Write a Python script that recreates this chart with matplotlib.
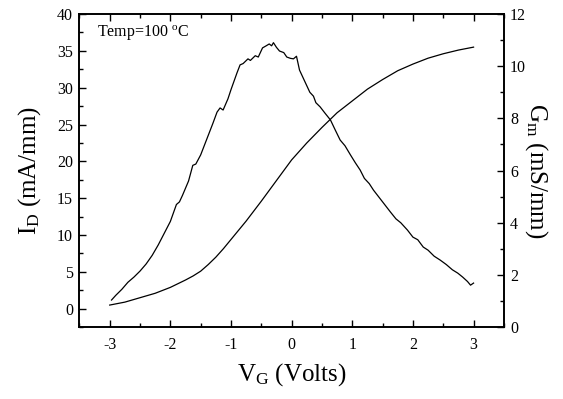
import matplotlib.pyplot as plt
from matplotlib.ticker import MultipleLocator

plt.rcParams['font.family'] = 'Liberation Serif'
plt.rcParams['mathtext.fontset'] = 'custom'
plt.rcParams['mathtext.rm'] = 'Liberation Serif'
plt.rcParams['mathtext.it'] = 'Liberation Serif:italic'
plt.rcParams['axes.unicode_minus'] = False  # plain hyphen like the original

# ---------- Data ----------
# drain current, left axis
vg_id = [-3.0, -2.875, -2.75, -2.625, -2.5, -2.375, -2.25, -2.125, -2.0, -1.875, -1.75,
         -1.625, -1.5, -1.375, -1.25, -1.125, -1.0, -0.75, -0.5, -0.25,
         0.0, 0.25, 0.5, 0.75, 1.0, 1.25, 1.5, 1.75, 2.0, 2.25, 2.5, 2.75, 3.0]
i_d = [0.5, 0.7, 0.9, 1.2, 1.5, 1.8, 2.1, 2.5, 2.9, 3.4, 3.9,
       4.45, 5.1, 6.0, 7.0, 8.15, 9.4, 11.9, 14.6, 17.4,
       20.2, 22.5, 24.6, 26.6, 28.2, 29.8, 31.1, 32.3, 33.2, 34.0, 34.6, 35.1, 35.5]

# transconductance, right axis
vg_gm = [-2.97, -2.9, -2.8, -2.7, -2.6, -2.5, -2.4, -2.3, -2.2, -2.1, -2.0, -1.9, -1.85,
         -1.8, -1.7, -1.63, -1.58, -1.5, -1.4, -1.3, -1.23, -1.18, -1.13, -1.05, -1.0,
         -0.9, -0.85, -0.8, -0.72, -0.68, -0.6, -0.55, -0.48, -0.42, -0.37, -0.33, -0.3,
         -0.25, -0.2, -0.13, -0.08, -0.02, 0.03, 0.08, 0.13, 0.2, 0.3, 0.36, 0.4, 0.47,
         0.55, 0.64, 0.72, 0.8, 0.88, 0.97, 1.05, 1.13, 1.2, 1.28, 1.35, 1.45, 1.55, 1.63,
         1.72, 1.8, 1.91, 2.0, 2.08, 2.17, 2.25, 2.35, 2.45, 2.55, 2.65, 2.74, 2.82, 2.9,
         2.95, 3.0]
g_m = [1.04, 1.22, 1.45, 1.72, 1.92, 2.15, 2.42, 2.75, 3.15, 3.6, 4.05, 4.7, 4.8,
       5.05, 5.6, 6.2, 6.25, 6.6, 7.2, 7.8, 8.24, 8.4, 8.32, 8.75, 9.1,
       9.75, 10.05, 10.1, 10.28, 10.22, 10.4, 10.35, 10.7, 10.78, 10.85, 10.78, 10.9,
       10.72, 10.58, 10.52, 10.35, 10.3, 10.28, 10.38, 9.85, 9.5, 9.0, 8.85, 8.6, 8.44,
       8.2, 7.94, 7.55, 7.17, 6.95, 6.6, 6.3, 6.02, 5.7, 5.5, 5.25, 4.95, 4.65, 4.41,
       4.15, 4.0, 3.72, 3.45, 3.35, 3.07, 2.95, 2.72, 2.57, 2.4, 2.2, 2.07, 1.92, 1.75,
       1.61, 1.69]

# ---------- Plotting ----------
fig = plt.figure(figsize=(5.63, 3.99), dpi=100)
ax = fig.add_axes([0.141, 0.180, 0.754, 0.785])
ax2 = ax.twinx()

ax.plot(vg_id, i_d, color='black', lw=0.9)
ax2.plot(vg_gm, g_m, color='black', lw=0.9)

ax.set_xlim(-3.5, 3.5)
ax.set_ylim(-2.5, 40)
ax2.set_ylim(0, 12)

ax.xaxis.set_major_locator(MultipleLocator(1))
ax.xaxis.set_minor_locator(MultipleLocator(0.5))
ax.yaxis.set_major_locator(MultipleLocator(5))
ax.yaxis.set_minor_locator(MultipleLocator(2.5))
ax2.yaxis.set_major_locator(MultipleLocator(2))
ax2.yaxis.set_minor_locator(MultipleLocator(1))

ax.tick_params(axis='x', which='both', direction='in', top=True, bottom=True, labelsize=11.5, pad=7)
ax.tick_params(axis='y', which='both', direction='in', left=True, right=False, labelsize=11.5, pad=4.5)
ax2.tick_params(axis='y', which='both', direction='in', labelsize=11.5, pad=4.5)
for a in (ax, ax2):
    a.tick_params(which='major', length=5, width=1)
    a.tick_params(which='minor', length=3, width=1)
    for s in a.spines.values():
        s.set_linewidth(1.2)

ax.set_xlabel('V$_\\mathrm{G}$ (Volts)', fontsize=18, labelpad=6)
ax.set_ylabel('I$_\\mathrm{D}$ (mA/mm)', fontsize=18, labelpad=10)
ax2.set_ylabel('G$_\\mathrm{m}$ (mS/mm)', fontsize=18, rotation=270, labelpad=17)

ax.text(0.042, 0.927, 'Temp=100 $^\\mathrm{o}$C', transform=ax.transAxes, fontsize=11.5, va='baseline')

fig.savefig('out.png', dpi=100)
